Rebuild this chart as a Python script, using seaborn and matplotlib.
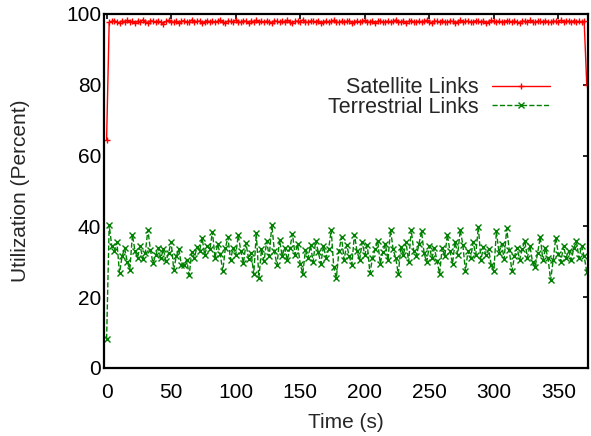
import numpy as np
import seaborn as sns
import matplotlib.pyplot as plt

# Time axis (s), one sample every 2 s
time_s = np.arange(0, 374, 2)

# Satellite link utilization (percent)
satellite = [
    64.5, 97.6, 97.9, 98.1, 97.7, 97.5, 98.0, 97.8, 98.2, 97.6,
    97.9, 97.4, 98.0, 97.7, 98.3, 97.8, 97.5, 98.1, 97.9, 97.6,
    98.0, 97.7, 97.3, 97.9, 98.2, 97.8, 97.6, 98.0, 97.5, 97.9,
    98.1, 97.7, 97.8, 98.3, 97.6, 97.9, 98.0, 97.4, 97.8, 98.1,
    97.7, 98.0, 97.6, 97.9, 98.2, 97.8, 97.5, 98.0, 97.9, 97.7,
    98.3, 97.8, 97.6, 98.1, 97.9, 97.5, 98.0, 97.8, 98.2, 97.7,
    97.9, 97.6, 98.0, 97.8, 97.4, 98.1, 97.9, 97.7, 98.0, 97.6,
    98.2, 97.8, 97.5, 97.9, 98.0, 97.7, 98.3, 97.8, 97.6, 98.0,
    97.9, 97.7, 98.1, 97.5, 97.8, 98.0, 97.6, 97.9, 98.2, 97.8,
    97.6, 98.0, 97.7, 97.9, 98.1, 97.5, 97.8, 98.0, 97.7, 97.9,
    98.2, 97.6, 97.8, 98.0, 97.4, 97.9, 98.1, 97.7, 97.8, 98.0,
    97.6, 97.9, 98.3, 97.7, 97.8, 98.0, 97.5, 97.9, 98.1, 97.8,
    97.7, 98.0, 97.6, 97.9, 98.2, 97.8, 97.5, 98.0, 97.9, 97.7,
    98.1, 97.8, 97.6, 98.0, 97.9, 97.4, 97.8, 98.2, 97.7, 97.9,
    98.0, 97.6, 97.8, 98.1, 97.9, 97.7, 98.0, 97.5, 97.8, 98.2,
    97.9, 97.7, 98.0, 97.6, 97.8, 98.1, 97.9, 97.7, 98.0, 97.8,
    97.5, 98.0, 97.9, 97.7, 98.2, 97.8, 97.6, 98.0, 97.9, 97.7,
    98.1, 97.8, 97.6, 98.0, 97.9, 97.7, 98.2, 97.8, 97.9, 98.0,
    97.7, 98.1, 97.8, 97.9, 97.6, 97.9, 80.0,
]

# Terrestrial link utilization (percent)
terrestrial = [
    8.2, 40.4, 34.5, 33.0, 35.5, 26.8, 31.5, 33.8, 30.0, 27.8,
    37.6, 33.0, 31.2, 34.5, 30.8, 32.6, 39.0, 33.2, 29.6, 31.8,
    34.0, 31.0, 33.5, 30.2, 32.4, 35.7, 27.8, 31.5, 33.6, 29.0,
    29.0, 30.5, 26.3, 32.8, 31.0, 34.3, 33.0, 36.7, 32.0, 34.5,
    33.5, 38.5, 31.0, 35.0, 32.2, 27.4, 33.8, 37.0, 30.5, 34.0,
    31.8, 37.5, 33.0, 29.6, 35.2, 30.8, 32.5, 26.5, 38.0, 25.5,
    33.5, 30.2, 35.8, 31.5, 40.4, 33.0, 29.0, 36.2, 31.6, 34.0,
    30.5, 33.8, 37.9, 32.0, 35.0, 29.4, 26.6, 33.2, 31.0, 34.6,
    30.0, 36.0, 32.8, 29.5, 34.4, 31.2, 33.5, 39.0, 28.4, 25.4,
    33.0, 37.0, 30.6, 34.8, 31.5, 29.2, 37.7, 33.0, 30.4, 35.5,
    32.0, 34.6, 26.8, 31.0, 33.5, 36.0, 29.5, 32.8, 35.0, 30.5,
    39.0, 33.5, 31.0, 26.6, 34.2, 32.0, 35.5, 30.0, 39.0, 33.0,
    31.5, 35.0, 38.6, 32.4, 29.8, 34.5, 31.0, 33.8, 30.2, 26.6,
    34.0, 31.5, 37.7, 33.0, 29.5, 35.6, 32.0, 39.0, 34.8, 27.4,
    33.0, 31.0, 35.5, 32.0, 39.9, 30.5, 34.2, 31.8, 33.6, 29.0,
    27.4, 38.6, 32.5, 35.0, 30.8, 39.4, 33.2, 27.4, 31.5, 34.0,
    30.6, 33.5, 36.0, 31.2, 34.5, 29.8, 28.5, 32.6, 37.0, 30.4,
    33.8, 31.0, 24.8, 30.5, 36.8, 32.2, 30.0, 34.5, 31.2, 33.0,
    30.5, 33.8, 35.8, 31.0, 34.5, 31.5, 27.2,
]

sns.set_style("white")
plt.rcParams['font.family'] = ['Liberation Sans', 'DejaVu Sans']

fig = plt.figure(figsize=(5.91, 4.36), dpi=100)
ax = fig.add_axes([0.176, 0.156, 0.819, 0.812])

sns.lineplot(x=time_s, y=satellite, ax=ax, color='red', marker='+',
             markersize=5, markeredgewidth=1, markeredgecolor='red',
             linewidth=1, label='Satellite Links')
sns.lineplot(x=time_s, y=terrestrial, ax=ax, color='green', marker='x',
             markersize=4.5, markeredgewidth=1, markeredgecolor='green',
             linewidth=1, linestyle='--', label='Terrestrial Links')

ax.set_xlim(-2, 373)
ax.set_ylim(0, 100)
ax.set_xticks(range(0, 351, 50))
ax.set_yticks(range(0, 101, 20))
ax.tick_params(direction='in', top=True, right=True, length=3.5, width=1.2,
               colors='black', labelsize=15)
ax.tick_params(axis='x', pad=11)
ax.tick_params(axis='y', pad=2)
for s in ax.spines.values():
    s.set_linewidth(1.6)
    s.set_color('black')

ax.set_xlabel('Time (s)', fontsize=15, labelpad=8)
ax.set_ylabel('Utilization (Percent)', fontsize=15, labelpad=26)

ax.legend(loc='upper right', bbox_to_anchor=(0.94, 0.846), frameon=False,
          markerfirst=False, handlelength=2.7, handletextpad=0.65,
          labelspacing=-0.05, fontsize=15.5, borderaxespad=0)

fig.savefig('out.png', dpi=100)
